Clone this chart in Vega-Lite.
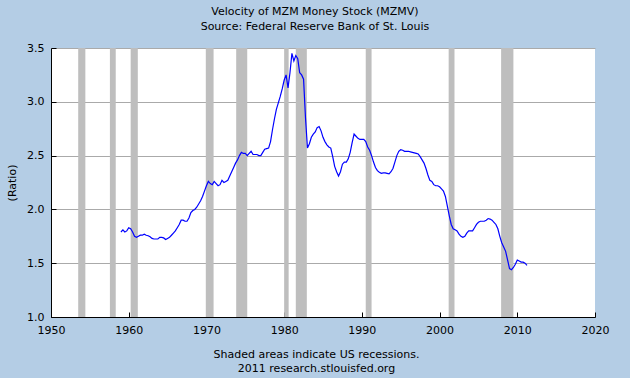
{
  "$schema": "https://vega.github.io/schema/vega-lite/v6.json",
  "width": 544,
  "height": 269,
  "autosize": "none",
  "padding": {"left": 51, "top": 48, "right": 35, "bottom": 61},
  "background": "#b4cde5",
  "config": {
    "view": {"stroke": null, "fill": "#ffffff"},
    "font": "DejaVu Sans",
    "axis": {
      "labelFont": "DejaVu Sans", "labelFontSize": 11, "labelColor": "#000000", "labelFlush": false,
      "titleFont": "DejaVu Sans", "titleFontSize": 11, "titleFontWeight": "normal", "titleColor": "#000000",
      "domainColor": "#000000", "tickColor": "#000000", "tickSize": -5, "labelPadding": 12,
      "gridColor": "#aaaaaa", "gridOpacity": 1, "gridWidth": 1
    }
  },
  "title": {
    "text": ["Velocity of MZM Money Stock (MZMV)", "Source: Federal Reserve Bank of St. Louis"],
    "font": "DejaVu Sans", "fontSize": 11, "fontWeight": "normal", "color": "#000000",
    "anchor": "middle", "frame": "group", "dx": -8, "offset": 10, "lineHeight": 15
  },
  "datasets": {
    "recessions": [
      {"s": 1953.5, "e": 1954.42},
      {"s": 1957.58, "e": 1958.33},
      {"s": 1960.25, "e": 1961.17},
      {"s": 1969.92, "e": 1970.92},
      {"s": 1973.83, "e": 1975.25},
      {"s": 1980.0, "e": 1980.58},
      {"s": 1981.5, "e": 1982.92},
      {"s": 1990.5, "e": 1991.25},
      {"s": 2001.17, "e": 2001.92},
      {"s": 2007.92, "e": 2009.5}
    ],
    "mzmv": [
      {"d":1959.0,"v":1.79},{"d":1959.25,"v":1.81},{"d":1959.5,"v":1.79},{"d":1959.75,"v":1.80},
      {"d":1960.0,"v":1.83},{"d":1960.25,"v":1.82},{"d":1960.5,"v":1.79},{"d":1960.75,"v":1.75},
      {"d":1961.0,"v":1.74},{"d":1961.25,"v":1.75},{"d":1961.5,"v":1.76},{"d":1961.75,"v":1.76},
      {"d":1962.0,"v":1.77},{"d":1962.25,"v":1.76},{"d":1962.5,"v":1.755},{"d":1962.75,"v":1.745},
      {"d":1963.0,"v":1.73},{"d":1963.25,"v":1.725},{"d":1963.5,"v":1.725},{"d":1963.75,"v":1.725},
      {"d":1964.0,"v":1.74},{"d":1964.25,"v":1.74},{"d":1964.5,"v":1.735},{"d":1964.75,"v":1.72},
      {"d":1965.0,"v":1.73},{"d":1965.25,"v":1.74},{"d":1965.5,"v":1.76},{"d":1965.75,"v":1.78},
      {"d":1966.0,"v":1.80},{"d":1966.25,"v":1.83},{"d":1966.5,"v":1.86},{"d":1966.75,"v":1.90},
      {"d":1967.0,"v":1.90},{"d":1967.25,"v":1.89},{"d":1967.5,"v":1.89},{"d":1967.75,"v":1.92},
      {"d":1968.0,"v":1.97},{"d":1968.25,"v":1.99},{"d":1968.5,"v":2.00},{"d":1968.75,"v":2.02},
      {"d":1969.0,"v":2.05},{"d":1969.25,"v":2.08},{"d":1969.5,"v":2.12},{"d":1969.75,"v":2.17},
      {"d":1970.0,"v":2.22},{"d":1970.25,"v":2.26},{"d":1970.5,"v":2.24},{"d":1970.75,"v":2.23},
      {"d":1971.0,"v":2.26},{"d":1971.25,"v":2.24},{"d":1971.5,"v":2.22},{"d":1971.75,"v":2.23},
      {"d":1972.0,"v":2.27},{"d":1972.25,"v":2.25},{"d":1972.5,"v":2.26},{"d":1972.75,"v":2.27},
      {"d":1973.0,"v":2.31},{"d":1973.25,"v":2.35},{"d":1973.5,"v":2.39},{"d":1973.75,"v":2.43},
      {"d":1974.0,"v":2.46},{"d":1974.25,"v":2.50},{"d":1974.5,"v":2.53},{"d":1974.75,"v":2.52},
      {"d":1975.0,"v":2.52},{"d":1975.25,"v":2.50},{"d":1975.5,"v":2.52},{"d":1975.75,"v":2.54},
      {"d":1976.0,"v":2.51},{"d":1976.25,"v":2.51},{"d":1976.5,"v":2.51},{"d":1976.75,"v":2.50},
      {"d":1977.0,"v":2.50},{"d":1977.25,"v":2.53},{"d":1977.5,"v":2.56},{"d":1977.75,"v":2.565},
      {"d":1978.0,"v":2.57},{"d":1978.25,"v":2.63},{"d":1978.5,"v":2.74},{"d":1978.75,"v":2.84},
      {"d":1979.0,"v":2.93},{"d":1979.25,"v":2.99},{"d":1979.5,"v":3.05},{"d":1979.75,"v":3.12},
      {"d":1980.0,"v":3.20},{"d":1980.25,"v":3.25},{"d":1980.5,"v":3.13},{"d":1980.75,"v":3.27},
      {"d":1981.0,"v":3.45},{"d":1981.25,"v":3.38},{"d":1981.5,"v":3.43},{"d":1981.75,"v":3.40},
      {"d":1982.0,"v":3.27},{"d":1982.25,"v":3.25},{"d":1982.5,"v":3.21},{"d":1982.75,"v":2.85},
      {"d":1983.0,"v":2.57},{"d":1983.25,"v":2.61},{"d":1983.5,"v":2.67},{"d":1983.75,"v":2.70},
      {"d":1984.0,"v":2.72},{"d":1984.25,"v":2.76},{"d":1984.5,"v":2.77},{"d":1984.75,"v":2.73},
      {"d":1985.0,"v":2.67},{"d":1985.25,"v":2.63},{"d":1985.5,"v":2.60},{"d":1985.75,"v":2.58},
      {"d":1986.0,"v":2.57},{"d":1986.25,"v":2.49},{"d":1986.5,"v":2.40},{"d":1986.75,"v":2.35},
      {"d":1987.0,"v":2.31},{"d":1987.25,"v":2.35},{"d":1987.5,"v":2.42},{"d":1987.75,"v":2.44},
      {"d":1988.0,"v":2.44},{"d":1988.25,"v":2.47},{"d":1988.5,"v":2.53},{"d":1988.75,"v":2.62},
      {"d":1989.0,"v":2.70},{"d":1989.25,"v":2.68},{"d":1989.5,"v":2.66},{"d":1989.75,"v":2.65},
      {"d":1990.0,"v":2.65},{"d":1990.25,"v":2.65},{"d":1990.5,"v":2.63},{"d":1990.75,"v":2.58},
      {"d":1991.0,"v":2.55},{"d":1991.25,"v":2.50},{"d":1991.5,"v":2.44},{"d":1991.75,"v":2.39},
      {"d":1992.0,"v":2.36},{"d":1992.25,"v":2.345},{"d":1992.5,"v":2.335},{"d":1992.75,"v":2.34},
      {"d":1993.0,"v":2.34},{"d":1993.25,"v":2.335},{"d":1993.5,"v":2.33},{"d":1993.75,"v":2.35},
      {"d":1994.0,"v":2.38},{"d":1994.25,"v":2.44},{"d":1994.5,"v":2.50},{"d":1994.75,"v":2.54},
      {"d":1995.0,"v":2.555},{"d":1995.25,"v":2.55},{"d":1995.5,"v":2.54},{"d":1995.75,"v":2.54},
      {"d":1996.0,"v":2.54},{"d":1996.25,"v":2.535},{"d":1996.5,"v":2.53},{"d":1996.75,"v":2.525},
      {"d":1997.0,"v":2.52},{"d":1997.25,"v":2.515},{"d":1997.5,"v":2.49},{"d":1997.75,"v":2.46},
      {"d":1998.0,"v":2.43},{"d":1998.25,"v":2.38},{"d":1998.5,"v":2.32},{"d":1998.75,"v":2.27},
      {"d":1999.0,"v":2.26},{"d":1999.25,"v":2.23},{"d":1999.5,"v":2.22},{"d":1999.75,"v":2.22},
      {"d":2000.0,"v":2.21},{"d":2000.25,"v":2.19},{"d":2000.5,"v":2.17},{"d":2000.75,"v":2.12},
      {"d":2001.0,"v":2.03},{"d":2001.25,"v":1.94},{"d":2001.5,"v":1.86},{"d":2001.75,"v":1.82},
      {"d":2002.0,"v":1.81},{"d":2002.25,"v":1.80},{"d":2002.5,"v":1.77},{"d":2002.75,"v":1.75},
      {"d":2003.0,"v":1.74},{"d":2003.25,"v":1.75},{"d":2003.5,"v":1.78},{"d":2003.75,"v":1.80},
      {"d":2004.0,"v":1.80},{"d":2004.25,"v":1.80},{"d":2004.5,"v":1.83},{"d":2004.75,"v":1.86},
      {"d":2005.0,"v":1.88},{"d":2005.25,"v":1.89},{"d":2005.5,"v":1.89},{"d":2005.75,"v":1.89},
      {"d":2006.0,"v":1.90},{"d":2006.25,"v":1.915},{"d":2006.5,"v":1.91},{"d":2006.75,"v":1.90},
      {"d":2007.0,"v":1.88},{"d":2007.25,"v":1.86},{"d":2007.5,"v":1.82},{"d":2007.75,"v":1.75},
      {"d":2008.0,"v":1.69},{"d":2008.25,"v":1.65},{"d":2008.5,"v":1.61},{"d":2008.75,"v":1.53},
      {"d":2009.0,"v":1.45},{"d":2009.25,"v":1.44},{"d":2009.5,"v":1.46},{"d":2009.75,"v":1.49},
      {"d":2010.0,"v":1.53},{"d":2010.25,"v":1.52},{"d":2010.5,"v":1.51},{"d":2010.75,"v":1.51},
      {"d":2011.0,"v":1.50},{"d":2011.25,"v":1.48}
    ]
  },
  "layer": [
    {
      "data": {"name": "recessions"},
      "mark": {"type": "rect", "color": "#bebebe", "opacity": 1},
      "encoding": {
        "x": {"field": "s", "type": "quantitative", "scale": {"domain": [1950, 2020]}},
        "x2": {"field": "e"}
      }
    },
    {
      "data": {"name": "mzmv"},
      "mark": {"type": "line", "color": "#0000ff", "strokeWidth": 1.2, "interpolate": "linear"},
      "encoding": {
        "x": {
          "field": "d", "type": "quantitative",
          "scale": {"domain": [1950, 2020], "nice": false, "zero": false},
          "axis": {
            "values": [1950, 1960, 1970, 1980, 1990, 2000, 2010, 2020],
            "format": "d", "grid": false,
            "title": ["Shaded areas indicate US recessions.", "2011 research.stlouisfed.org"],
            "titleX": 265, "titleY": 31, "titleBaseline": "top", "titleAnchor": null, "titleAlign": "center", "titleLineHeight": 14
          }
        },
        "y": {
          "field": "v", "type": "quantitative",
          "scale": {"domain": [1, 3.5], "nice": false, "zero": false},
          "axis": {
            "values": [1.0, 1.5, 2.0, 2.5, 3.0, 3.5],
            "format": ".1f", "grid": true,
            "title": "(Ratio)",
            "titleX": -39, "titleY": 134.5, "titleAngle": 270, "titleBaseline": "middle", "titleAlign": "center"
          }
        }
      }
    }
  ]
}
